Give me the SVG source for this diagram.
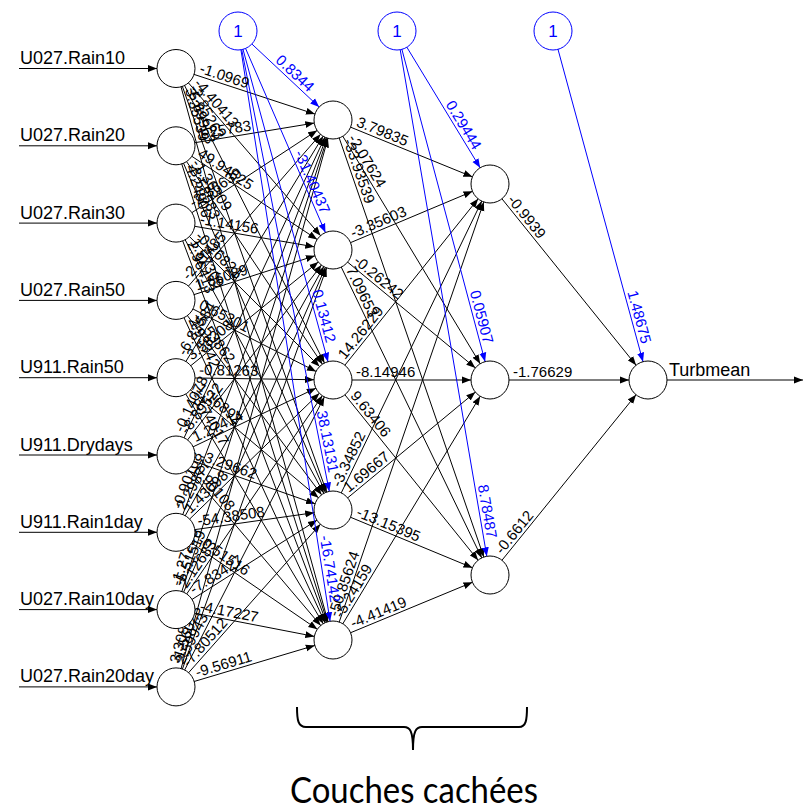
<svg xmlns="http://www.w3.org/2000/svg" xmlns:xlink="http://www.w3.org/1999/xlink" width="804" height="811" viewBox="0 0 804 811">
<style>
.e{stroke:#000;stroke-width:1;fill:none;marker-end:url(#ak)}
.eb{stroke:#0000ff;stroke-width:1;fill:none;marker-end:url(#ab)}
.w{font-family:"Liberation Sans",Arial,sans-serif;font-size:15px;fill:#000}
.wb{font-family:"Liberation Sans",Arial,sans-serif;font-size:15px;fill:#0000ff}
.lab{font-family:"Liberation Sans",Arial,sans-serif;font-size:18px;fill:#000}
.n{fill:#fff;stroke:#000;stroke-width:1}
.nb{fill:#fff;stroke:#0000ff;stroke-width:1}
.one{font-family:"Liberation Sans",Arial,sans-serif;font-size:17px;fill:#0000ff;text-anchor:middle}
</style>
<defs>
<marker id="ak" viewBox="0 0 30 8" markerWidth="30" markerHeight="8" refX="28" refY="4" orient="auto" markerUnits="userSpaceOnUse"><path d="M0,0.5L9,4L0,7.5z" fill="#000"/></marker>
<marker id="ab" viewBox="0 0 30 8" markerWidth="30" markerHeight="8" refX="28" refY="4" orient="auto" markerUnits="userSpaceOnUse"><path d="M0,0.5L9,4L0,7.5z" fill="#0000ff"/></marker>
<marker id="at" viewBox="0 0 10 8" markerWidth="10" markerHeight="8" refX="9" refY="4" orient="auto" markerUnits="userSpaceOnUse"><path d="M0,0.5L9,4L0,7.5z" fill="#000"/></marker>
</defs>

<g id="connectors">
<path class="e" d="M19,68.5H176"/>
<path class="e" d="M19,145.8H176"/>
<path class="e" d="M19,223.1H176"/>
<path class="e" d="M19,300.4H176"/>
<path class="e" d="M19,377.7H176"/>
<path class="e" d="M19,455H176"/>
<path class="e" d="M19,532.3H176"/>
<path class="e" d="M19,609.6H176"/>
<path class="e" d="M19,686.9H176"/>

<path id="a11" class="e" d="M176,68.5L333,120"/>
<path id="a12" class="e" d="M176,68.5L333,250"/>
<path id="a13" class="e" d="M176,68.5L333,380"/>
<path id="a14" class="e" d="M176,68.5L333,510"/>
<path id="a15" class="e" d="M176,68.5L333,640"/>
<path id="a21" class="e" d="M176,145.8L333,120"/>
<path id="a22" class="e" d="M176,145.8L333,250"/>
<path id="a23" class="e" d="M176,145.8L333,380"/>
<path id="a24" class="e" d="M176,145.8L333,510"/>
<path id="a25" class="e" d="M176,145.8L333,640"/>
<path id="a31" class="e" d="M176,223.1L333,120"/>
<path id="a32" class="e" d="M176,223.1L333,250"/>
<path id="a33" class="e" d="M176,223.1L333,380"/>
<path id="a34" class="e" d="M176,223.1L333,510"/>
<path id="a35" class="e" d="M176,223.1L333,640"/>
<path id="a41" class="e" d="M176,300.4L333,120"/>
<path id="a42" class="e" d="M176,300.4L333,250"/>
<path id="a43" class="e" d="M176,300.4L333,380"/>
<path id="a44" class="e" d="M176,300.4L333,510"/>
<path id="a45" class="e" d="M176,300.4L333,640"/>
<path id="a51" class="e" d="M176,377.7L333,120"/>
<path id="a52" class="e" d="M176,377.7L333,250"/>
<path id="a53" class="e" d="M176,377.7L333,380"/>
<path id="a54" class="e" d="M176,377.7L333,510"/>
<path id="a55" class="e" d="M176,377.7L333,640"/>
<path id="a61" class="e" d="M176,455L333,120"/>
<path id="a62" class="e" d="M176,455L333,250"/>
<path id="a63" class="e" d="M176,455L333,380"/>
<path id="a64" class="e" d="M176,455L333,510"/>
<path id="a65" class="e" d="M176,455L333,640"/>
<path id="a71" class="e" d="M176,532.3L333,120"/>
<path id="a72" class="e" d="M176,532.3L333,250"/>
<path id="a73" class="e" d="M176,532.3L333,380"/>
<path id="a74" class="e" d="M176,532.3L333,510"/>
<path id="a75" class="e" d="M176,532.3L333,640"/>
<path id="a81" class="e" d="M176,609.6L333,120"/>
<path id="a82" class="e" d="M176,609.6L333,250"/>
<path id="a83" class="e" d="M176,609.6L333,380"/>
<path id="a84" class="e" d="M176,609.6L333,510"/>
<path id="a85" class="e" d="M176,609.6L333,640"/>
<path id="a91" class="e" d="M176,686.9L333,120"/>
<path id="a92" class="e" d="M176,686.9L333,250"/>
<path id="a93" class="e" d="M176,686.9L333,380"/>
<path id="a94" class="e" d="M176,686.9L333,510"/>
<path id="a95" class="e" d="M176,686.9L333,640"/>

<path id="h11" class="e" d="M333,120L490,184"/>
<path id="h12" class="e" d="M333,120L490,380"/>
<path id="h13" class="e" d="M333,120L490,575"/>
<path id="h21" class="e" d="M333,250L490,184"/>
<path id="h22" class="e" d="M333,250L490,380"/>
<path id="h23" class="e" d="M333,250L490,575"/>
<path id="h31" class="e" d="M333,380L490,184"/>
<path id="h32" class="e" d="M333,380L490,380"/>
<path id="h33" class="e" d="M333,380L490,575"/>
<path id="h41" class="e" d="M333,510L490,184"/>
<path id="h42" class="e" d="M333,510L490,380"/>
<path id="h43" class="e" d="M333,510L490,575"/>
<path id="h51" class="e" d="M333,640L490,184"/>
<path id="h52" class="e" d="M333,640L490,380"/>
<path id="h53" class="e" d="M333,640L490,575"/>

<path id="o1" class="e" d="M490,184L648,380"/>
<path id="o2" class="e" d="M490,380L648,380"/>
<path id="o3" class="e" d="M490,575L648,380"/>
<path style="stroke:#000;stroke-width:1;fill:none;marker-end:url(#at)" d="M667,380H803"/>

<path id="b11" class="eb" d="M238,31L333,120"/>
<path id="b12" class="eb" d="M238,31L333,250"/>
<path id="b13" class="eb" d="M238,31L333,380"/>
<path id="b14" class="eb" d="M238,31L333,510"/>
<path id="b15" class="eb" d="M238,31L333,640"/>
<path id="b21" class="eb" d="M397,31L490,184"/>
<path id="b22" class="eb" d="M397,31L490,380"/>
<path id="b23" class="eb" d="M397,31L490,575"/>
<path id="b31" class="eb" d="M553,31L648,380"/>
</g>

<g id="weights">
<text class="w"><textPath href="#a11" startOffset="23"><tspan dy="-3">-1.0969</tspan></textPath></text>
<text class="w"><textPath href="#a12" startOffset="23"><tspan dy="-3">-4.40413</tspan></textPath></text>
<text class="w"><textPath href="#a13" startOffset="23"><tspan dy="-3">-2.85263</tspan></textPath></text>
<text class="w"><textPath href="#a14" startOffset="23"><tspan dy="-3">-5.69963</tspan></textPath></text>
<text class="w"><textPath href="#a15" startOffset="23"><tspan dy="-3">3.35539</tspan></textPath></text>
<text class="w"><textPath href="#a21" startOffset="23"><tspan dy="-3">1.25783</tspan></textPath></text>
<text class="w"><textPath href="#a22" startOffset="23"><tspan dy="-3">49.94625</tspan></textPath></text>
<text class="w"><textPath href="#a23" startOffset="23"><tspan dy="-3">-1.36309</tspan></textPath></text>
<text class="w"><textPath href="#a24" startOffset="23"><tspan dy="-3">-3.53583</tspan></textPath></text>
<text class="w"><textPath href="#a25" startOffset="23"><tspan dy="-3">4.24906</tspan></textPath></text>
<text class="w"><textPath href="#a31" startOffset="23"><tspan dy="-3">-2.36639</tspan></textPath></text>
<text class="w"><textPath href="#a32" startOffset="23"><tspan dy="-3">-1.14156</tspan></textPath></text>
<text class="w"><textPath href="#a33" startOffset="23"><tspan dy="-3">-0.26821</tspan></textPath></text>
<text class="w"><textPath href="#a34" startOffset="23"><tspan dy="-3">1.57309</tspan></textPath></text>
<text class="w"><textPath href="#a35" startOffset="23"><tspan dy="-3">2.96413</tspan></textPath></text>
<text class="w"><textPath href="#a41" startOffset="23"><tspan dy="-3">-2.11485</tspan></textPath></text>
<text class="w"><textPath href="#a42" startOffset="23"><tspan dy="-3">1.86089</tspan></textPath></text>
<text class="w"><textPath href="#a43" startOffset="23"><tspan dy="-3">0.65301</tspan></textPath></text>
<text class="w"><textPath href="#a44" startOffset="23"><tspan dy="-3">-5.53862</tspan></textPath></text>
<text class="w"><textPath href="#a45" startOffset="23"><tspan dy="-3">2.93342</tspan></textPath></text>
<text class="w"><textPath href="#a51" startOffset="23"><tspan dy="-3">-6.83584</tspan></textPath></text>
<text class="w"><textPath href="#a52" startOffset="23"><tspan dy="-3">3.58208</tspan></textPath></text>
<text class="w"><textPath href="#a53" startOffset="23"><tspan dy="-3">-0.81263</tspan></textPath></text>
<text class="w"><textPath href="#a54" startOffset="23"><tspan dy="-3">1.16892</tspan></textPath></text>
<text class="w"><textPath href="#a55" startOffset="23"><tspan dy="-3">-3.74017</tspan></textPath></text>
<text class="w"><textPath href="#a61" startOffset="23"><tspan dy="-3">-0.14078</tspan></textPath></text>
<text class="w"><textPath href="#a62" startOffset="23"><tspan dy="-3">-8.89522</tspan></textPath></text>
<text class="w"><textPath href="#a63" startOffset="23"><tspan dy="-3">1.27414</tspan></textPath></text>
<text class="w"><textPath href="#a64" startOffset="23"><tspan dy="-3">-3.29662</tspan></textPath></text>
<text class="w"><textPath href="#a65" startOffset="23"><tspan dy="-3">0.90108</tspan></textPath></text>
<text class="w"><textPath href="#a71" startOffset="23"><tspan dy="-3">-0.90108</tspan></textPath></text>
<text class="w"><textPath href="#a72" startOffset="23"><tspan dy="-3">2.29877</tspan></textPath></text>
<text class="w"><textPath href="#a73" startOffset="23"><tspan dy="-3">1.43098</tspan></textPath></text>
<text class="w"><textPath href="#a74" startOffset="23"><tspan dy="-3">-54.38508</tspan></textPath></text>
<text class="w"><textPath href="#a75" startOffset="23"><tspan dy="-3">-0.51516</tspan></textPath></text>
<text class="w"><textPath href="#a81" startOffset="23"><tspan dy="-3">-1.27255</tspan></textPath></text>
<text class="w"><textPath href="#a82" startOffset="23"><tspan dy="-3">-5.51519</tspan></textPath></text>
<text class="w"><textPath href="#a83" startOffset="23"><tspan dy="-3">2.12683</tspan></textPath></text>
<text class="w"><textPath href="#a84" startOffset="23"><tspan dy="-3">-7.83427</tspan></textPath></text>
<text class="w"><textPath href="#a85" startOffset="23"><tspan dy="-3">-4.17227</tspan></textPath></text>
<text class="w"><textPath href="#a91" startOffset="23"><tspan dy="-3">3.30814</tspan></textPath></text>
<text class="w"><textPath href="#a92" startOffset="23"><tspan dy="-3">-1.56023</tspan></textPath></text>
<text class="w"><textPath href="#a93" startOffset="23"><tspan dy="-3">2.59943</tspan></textPath></text>
<text class="w"><textPath href="#a94" startOffset="23"><tspan dy="-3">-7.80512</tspan></textPath></text>
<text class="w"><textPath href="#a95" startOffset="23"><tspan dy="-3">-9.56911</tspan></textPath></text>

<text class="w"><textPath href="#h11" startOffset="23"><tspan dy="-3">3.79835</tspan></textPath></text>
<text class="w"><textPath href="#h12" startOffset="23"><tspan dy="-3">-2.07624</tspan></textPath></text>
<text class="w"><textPath href="#h13" startOffset="23"><tspan dy="-3">-33.93539</tspan></textPath></text>
<text class="w"><textPath href="#h21" startOffset="23"><tspan dy="-3">-3.35603</tspan></textPath></text>
<text class="w"><textPath href="#h22" startOffset="23"><tspan dy="-3">-0.26242</tspan></textPath></text>
<text class="w"><textPath href="#h23" startOffset="23"><tspan dy="-3">7.09653</tspan></textPath></text>
<text class="w"><textPath href="#h31" startOffset="23"><tspan dy="-3">14.26229</tspan></textPath></text>
<text class="w"><textPath href="#h32" startOffset="23"><tspan dy="-3">-8.14946</tspan></textPath></text>
<text class="w"><textPath href="#h33" startOffset="23"><tspan dy="-3">9.63406</tspan></textPath></text>
<text class="w"><textPath href="#h41" startOffset="23"><tspan dy="-3">-3.34852</tspan></textPath></text>
<text class="w"><textPath href="#h42" startOffset="23"><tspan dy="-3">1.69667</tspan></textPath></text>
<text class="w"><textPath href="#h43" startOffset="23"><tspan dy="-3">-13.15395</tspan></textPath></text>
<text class="w"><textPath href="#h51" startOffset="23"><tspan dy="-3">-50.85624</tspan></textPath></text>
<text class="w"><textPath href="#h52" startOffset="23"><tspan dy="-3">-5.24159</tspan></textPath></text>
<text class="w"><textPath href="#h53" startOffset="23"><tspan dy="-3">-4.41419</tspan></textPath></text>

<text class="w"><textPath href="#o1" startOffset="23"><tspan dy="-3">-0.9939</tspan></textPath></text>
<text class="w"><textPath href="#o2" startOffset="23"><tspan dy="-3">-1.76629</tspan></textPath></text>
<text class="w"><textPath href="#o3" startOffset="23"><tspan dy="-3">-0.6612</tspan></textPath></text>

<text class="wb" text-anchor="end"><textPath href="#b11" startOffset="93.5"><tspan dy="-3">0.8344</tspan></textPath></text>
<text class="wb" text-anchor="end"><textPath href="#b12" startOffset="201.8"><tspan dy="-3">-31.40437</tspan></textPath></text>
<text class="wb" text-anchor="end"><textPath href="#b13" startOffset="324.7"><tspan dy="-3">0.13412</tspan></textPath></text>
<text class="wb" text-anchor="end"><textPath href="#b14" startOffset="451.3"><tspan dy="-3">38.13131</tspan></textPath></text>
<text class="wb" text-anchor="end"><textPath href="#b15" startOffset="579.4"><tspan dy="-3">-16.74142</tspan></textPath></text>
<text class="wb" text-anchor="end"><textPath href="#b21" startOffset="142.2"><tspan dy="-3">0.29444</tspan></textPath></text>
<text class="wb" text-anchor="end"><textPath href="#b22" startOffset="325.2"><tspan dy="-3">0.05907</tspan></textPath></text>
<text class="wb" text-anchor="end"><textPath href="#b23" startOffset="515.9"><tspan dy="-3">8.78487</tspan></textPath></text>
<text class="wb" text-anchor="end"><textPath href="#b31" startOffset="325.7"><tspan dy="-3">1.48675</tspan></textPath></text>
</g>

<g id="in1"><text class="lab" x="20" y="64">U027.Rain10</text><circle class="n" cx="176" cy="68.5" r="19"/></g>
<g id="in2"><text class="lab" x="20" y="141.3">U027.Rain20</text><circle class="n" cx="176" cy="145.8" r="19"/></g>
<g id="in3"><text class="lab" x="20" y="218.6">U027.Rain30</text><circle class="n" cx="176" cy="223.1" r="19"/></g>
<g id="in4"><text class="lab" x="20" y="295.9">U027.Rain50</text><circle class="n" cx="176" cy="300.4" r="19"/></g>
<g id="in5"><text class="lab" x="20" y="373.2">U911.Rain50</text><circle class="n" cx="176" cy="377.7" r="19"/></g>
<g id="in6"><text class="lab" x="20" y="450.5">U911.Drydays</text><circle class="n" cx="176" cy="455" r="19"/></g>
<g id="in7"><text class="lab" x="20" y="527.8">U911.Rain1day</text><circle class="n" cx="176" cy="532.3" r="19"/></g>
<g id="in8"><text class="lab" x="20" y="605.1">U027.Rain10day</text><circle class="n" cx="176" cy="609.6" r="19"/></g>
<g id="in9"><text class="lab" x="20" y="682.4">U027.Rain20day</text><circle class="n" cx="176" cy="686.9" r="19"/></g>

<g id="h1_1"><circle class="n" cx="333" cy="120" r="19"/></g>
<g id="h1_2"><circle class="n" cx="333" cy="250" r="19"/></g>
<g id="h1_3"><circle class="n" cx="333" cy="380" r="19"/></g>
<g id="h1_4"><circle class="n" cx="333" cy="510" r="19"/></g>
<g id="h1_5"><circle class="n" cx="333" cy="640" r="19"/></g>
<g id="h2_1"><circle class="n" cx="490" cy="184" r="19"/></g>
<g id="h2_2"><circle class="n" cx="490" cy="380" r="19"/></g>
<g id="h2_3"><circle class="n" cx="490" cy="575" r="19"/></g>
<g id="out"><circle class="n" cx="648" cy="380" r="19"/><text class="lab" x="669" y="376">Turbmean</text></g>

<g id="bias1"><circle class="nb" cx="238" cy="31" r="19"/><text class="one" x="238" y="37">1</text></g>
<g id="bias2"><circle class="nb" cx="397" cy="31" r="19"/><text class="one" x="397" y="37">1</text></g>
<g id="bias3"><circle class="nb" cx="553" cy="31" r="19"/><text class="one" x="553" y="37">1</text></g>

<g id="brace">
<path d="M297,707C297,720 298,727 306,727L404,727C410,727 413,731 413,750C413,731 416,727 422,727L519,727C526,727 527,720 527,707" fill="none" stroke="#000" stroke-width="2"/>
<text x="414" y="803" font-family="Lato,'Liberation Sans',sans-serif" font-size="36" text-anchor="middle" textLength="248" lengthAdjust="spacingAndGlyphs" fill="#000">Couches cachées</text>
</g>
</svg>
